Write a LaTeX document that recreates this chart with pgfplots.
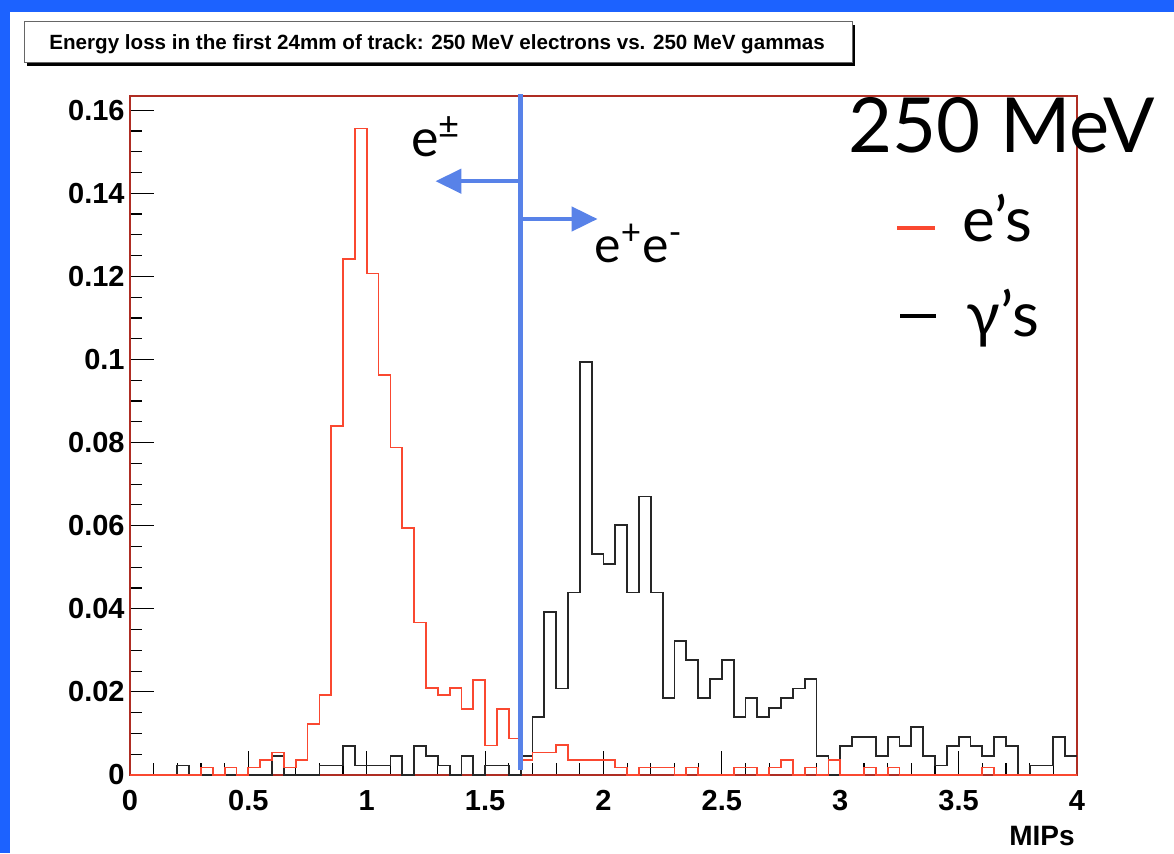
\documentclass[border=0pt]{standalone}
\usepackage{fontspec}
\setmainfont{Liberation Sans}
\newfontfamily\gill{Lato}
\usepackage{pgfplots}
\pgfplotsset{compat=1.18}
\usetikzlibrary{arrows.meta}

\definecolor{slideblue}{RGB}{28,98,255}
\definecolor{histred}{RGB}{250,72,48}
\definecolor{cutblue}{RGB}{88,130,232}
\definecolor{framered}{RGB}{175,45,35}

\begin{document}
\begin{tikzpicture}
\useasboundingbox (0,0) rectangle (587pt,426.5pt);
\fill[white] (0,0) rectangle (587pt,426.5pt);
\fill[slideblue] (0,420.5pt) rectangle (587pt,426.5pt);
\fill[slideblue] (0,0) rectangle (5pt,426.5pt);

\begin{axis}[
    at={(65pt,39pt)}, anchor=south west,
    scale only axis, width=473.5pt, height=339.5pt,
    xmin=0, xmax=4, ymin=0, ymax=0.1634,
    clip=false,
    axis line style={framered, line width=0.8pt},
    tick pos=left, tick align=inside,
    tick style={black, line width=0.6pt},
    xtick={0,0.5,1,1.5,2,2.5,3,3.5,4},
    ytick={0,0.02,0.04,0.06,0.08,0.1,0.12,0.14,0.16},
    minor x tick num=4, minor y tick num=3,
    major tick length=12pt, minor tick length=6pt,
    scaled y ticks=false,
    /pgf/number format/assume math mode=true,
    yticklabel style={/pgf/number format/fixed, /pgf/number format/precision=2,
        inner sep=0pt, xshift=-2.5pt},
    xticklabel style={inner sep=0pt, yshift=-7.5pt},
    tick label style={font=\bfseries\fontsize{14.5}{14.5}\selectfont},
]
% gammas
\addplot[const plot, black!85, line width=0.9pt] coordinates {
(0,0) (0.05,0) (0.1,0) (0.15,0) (0.2,0.0023) (0.25,0) (0.3,0) (0.35,0) (0.4,0) (0.45,0)
(0.5,0) (0.55,0) (0.6,0.0046) (0.65,0) (0.7,0) (0.75,0) (0.8,0.0023) (0.85,0.0023) (0.9,0.0069) (0.95,0.0023)
(1.0,0.0023) (1.05,0.0023) (1.1,0.0046) (1.15,0) (1.2,0.0069) (1.25,0.0046) (1.3,0.0023) (1.35,0) (1.4,0.0046) (1.45,0)
(1.5,0.0023) (1.55,0.0023) (1.6,0) (1.65,0.0046) (1.7,0.0139) (1.75,0.0393) (1.8,0.0208) (1.85,0.0439) (1.9,0.0994) (1.95,0.0531)
(2.0,0.0508) (2.05,0.0601) (2.1,0.0439) (2.15,0.0670) (2.2,0.0439) (2.25,0.0185) (2.3,0.0323) (2.35,0.0277) (2.4,0.0185) (2.45,0.0231)
(2.5,0.0277) (2.55,0.0139) (2.6,0.0185) (2.65,0.0139) (2.7,0.0162) (2.75,0.0185) (2.8,0.0208) (2.85,0.0231) (2.9,0.0046) (2.95,0)
(3.0,0.0069) (3.05,0.0092) (3.1,0.0092) (3.15,0.0046) (3.2,0.0092) (3.25,0.0069) (3.3,0.0116) (3.35,0.0046) (3.4,0.0023) (3.45,0.0069)
(3.5,0.0092) (3.55,0.0069) (3.6,0.0046) (3.65,0.0092) (3.7,0.0069) (3.75,0) (3.8,0.0023) (3.85,0.0023) (3.9,0.0092) (3.95,0.0046)
(4.0,0.0046)};
% electrons
\addplot[const plot, histred, line width=0.9pt] coordinates {
(0,0) (0.05,0) (0.1,0) (0.15,0) (0.2,0) (0.25,0) (0.3,0.0018) (0.35,0) (0.4,0.0018) (0.45,0)
(0.5,0.0018) (0.55,0.0036) (0.6,0.0054) (0.65,0.0018) (0.7,0.0036) (0.75,0.0123) (0.8,0.0193) (0.85,0.0840) (0.9,0.1241) (0.95,0.1556)
(1.0,0.1207) (1.05,0.0962) (1.1,0.0788) (1.15,0.0595) (1.2,0.0367) (1.25,0.0210) (1.3,0.0192) (1.35,0.0210) (1.4,0.0158) (1.45,0.0229)
(1.5,0.0071) (1.55,0.0158) (1.6,0.0088) (1.65,0.0036) (1.7,0.0054) (1.75,0.0054) (1.8,0.0072) (1.85,0.0036) (1.9,0.0036) (1.95,0.0036)
(2.0,0.0036) (2.05,0.0018) (2.1,0) (2.15,0.0018) (2.2,0.0018) (2.25,0.0018) (2.3,0) (2.35,0.0018) (2.4,0) (2.45,0)
(2.5,0) (2.55,0.0018) (2.6,0.0018) (2.65,0) (2.7,0.0018) (2.75,0.0036) (2.8,0) (2.85,0.0018) (2.9,0) (2.95,0.0036)
(3.0,0) (3.05,0) (3.1,0.0018) (3.15,0) (3.2,0.0018) (3.25,0) (3.3,0) (3.35,0) (3.4,0) (3.45,0)
(3.5,0) (3.55,0) (3.6,0.0018) (3.65,0) (3.7,0) (3.75,0) (3.8,0) (3.85,0) (3.9,0) (3.95,0)
(4.0,0)};
% cut line
\addplot[cutblue, line width=2.25pt] coordinates {(1.649,0.0012) (1.649,0.1640)};
\draw[cutblue, line width=2.25pt, -{Triangle[length=13pt,width=12pt]}]
    (axis cs:1.649,0.1429) -- (axis cs:1.290,0.1429);
\draw[cutblue, line width=2.25pt, -{Triangle[length=13pt,width=12pt]}]
    (axis cs:1.649,0.1338) -- (axis cs:1.975,0.1338);
\end{axis}

\begin{scope}[x=0.5pt, y=-0.5pt, shift={(0pt,426.5pt)}]
% title box
\fill[black] (27,25) rectangle (855,66);
\draw[fill=white, draw=black!60, line width=0.5pt] (24,22) rectangle (852,63);
\node[anchor=base west, inner sep=0pt, font=\bfseries\fontsize{10.3}{12}\selectfont]
    at (49,50) {Energy loss in the first 24mm of track: 250 MeV electrons vs. 250 MeV gammas};
% axis title
\node[anchor=base east, inner sep=0pt, font=\bfseries\fontsize{14}{14}\selectfont]
    at (1075,845) {MIPs};
% annotations
\node[anchor=base west, inner sep=0pt, font=\gill\fontsize{38}{40}\selectfont]
    at (848,153) {250 MeV};
\draw[histred, line width=2pt] (897,228) -- (935,228);
\node[anchor=base west, inner sep=0pt, font=\gill\fontsize{31}{34}\selectfont]
    at (962,242) {e’s};
\draw[black, line width=2pt] (900,316) -- (936,316);
\node[anchor=base west, inner sep=0pt, font=\gill\fontsize{31}{34}\selectfont]
    at (966,337) {γ’s};
\node[anchor=base west, inner sep=0pt, font=\gill\fontsize{26}{28}\selectfont]
    at (411,157) {e\textsuperscript{±}};
\node[anchor=base west, inner sep=0pt, font=\gill\fontsize{25}{28}\selectfont]
    at (594,263) {e\textsuperscript{+}e\textsuperscript{-}};
\end{scope}
\end{tikzpicture}
\end{document}
